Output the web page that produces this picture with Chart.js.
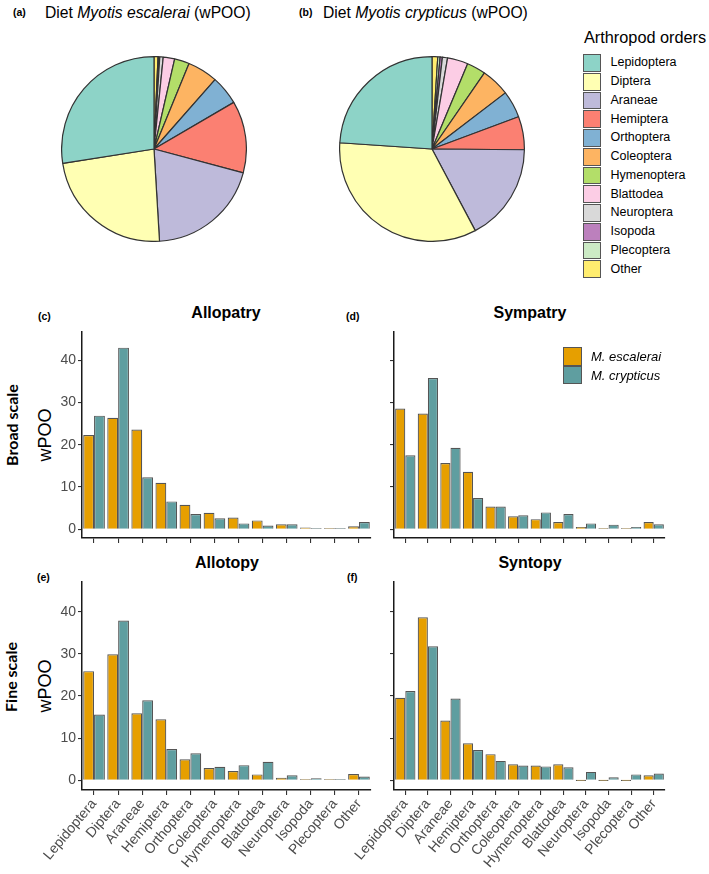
<!DOCTYPE html>
<html>
<head>
<meta charset="utf-8">
<script src="https://cdn.jsdelivr.net/npm/chart.js@4"></script>
<style>
  body { margin: 0; background: #fff; }
  #fig { position: relative; width: 709px; height: 874px; font-family: 'Liberation Sans', Arial, sans-serif; color: #000; }
  #fig canvas { position: absolute; }
  .t { position: absolute; white-space: nowrap; line-height: 1; }
  .tag { font-size: 10.5px; font-weight: bold; }
  .key { position: absolute; box-sizing: border-box; border: 1.4px solid #555; }
  .rot { position: absolute; white-space: nowrap; line-height: 1; transform: translate(-50%, -50%) rotate(-90deg); }
</style>
</head>
<body>
<div id="fig">
  <div class="t tag" style="left:13px;top:7px">(a)</div>
  <div class="t" style="left:45px;top:5px;font-size:15.7px">Diet <i>Myotis escalerai</i> (wPOO)</div>
  <div class="t tag" style="left:299px;top:7px">(b)</div>
  <div class="t" style="left:323px;top:5px;font-size:15.7px">Diet <i>Myotis crypticus</i> (wPOO)</div>
  <canvas id="pieA" width="186" height="186" style="left:61px;top:56px"></canvas>
  <canvas id="pieB" width="186" height="186" style="left:339px;top:56px"></canvas>
  <div class="t" style="left:584px;top:29px;font-size:16.3px">Arthropod orders</div>
  <div id="pieLegend"></div>

  <div class="t" style="left:226px;top:313px;font-size:16px;font-weight:bold;transform:translate(-50%,-50%)">Allopatry</div>
  <div class="t" style="left:530px;top:313px;font-size:16px;font-weight:bold;transform:translate(-50%,-50%)">Sympatry</div>
  <div class="t" style="left:227px;top:563px;font-size:16px;font-weight:bold;transform:translate(-50%,-50%)">Allotopy</div>
  <div class="t" style="left:530px;top:563px;font-size:16px;font-weight:bold;transform:translate(-50%,-50%)">Syntopy</div>
  <div class="t tag" style="left:38px;top:311px">(c)</div>
  <div class="t tag" style="left:346px;top:311px">(d)</div>
  <div class="t tag" style="left:37px;top:572px">(e)</div>
  <div class="t tag" style="left:347px;top:572px">(f)</div>
  <div class="rot" style="left:12px;top:425px;font-family:Lato,sans-serif;font-weight:bold;font-size:16px">Broad scale</div>
  <div class="rot" style="left:45px;top:435px;font-size:18px">wPOO</div>
  <div class="rot" style="left:11px;top:677px;font-family:Lato,sans-serif;font-weight:bold;font-size:16px">Fine scale</div>
  <div class="rot" style="left:45px;top:686px;font-size:18px">wPOO</div>

  <canvas id="barC" width="373" height="251" style="left:0;top:300px"></canvas>
  <canvas id="barD" width="355" height="251" style="left:312px;top:300px"></canvas>
  <canvas id="barE" width="373" height="324" style="left:0;top:550px"></canvas>
  <canvas id="barF" width="355" height="324" style="left:312px;top:550px"></canvas>

  <div class="key" style="left:563px;top:347px;width:18.5px;height:18.5px;background:#E69F00"></div>
  <div class="key" style="left:563px;top:365.5px;width:18.5px;height:18.5px;background:#5F9EA0"></div>
  <div class="t" style="left:591px;top:350px;font-size:13px;font-style:italic">M. escalerai</div>
  <div class="t" style="left:591px;top:369px;font-size:13px;font-style:italic">M. crypticus</div>
</div>
<script>
// Arthropod orders (legend order)
let orders = ["Lepidoptera", "Diptera", "Araneae", "Hemiptera", "Orthoptera", "Coleoptera",
  "Hymenoptera", "Blattodea", "Neuroptera", "Isopoda", "Plecoptera", "Other"];
let orderColors = ["#8DD3C7", "#FFFFB3", "#BEBADA", "#FB8072", "#80B1D3", "#FDB462",
  "#B3DE69", "#FCCDE5", "#D9D9D9", "#BC80BD", "#CCEBC5", "#FFED6F"];

// Pie values (wPOO, %)
let pieEscalerai = [27.5, 23.5, 19.9, 12.6, 5.1, 5.3, 2.6, 2.0, 0.6, 0.2, 0.1, 0.7];
let pieCrypticus = [23.9, 33.8, 17.1, 5.8, 4.7, 5.0, 3.3, 3.6, 0.9, 0.4, 0.4, 1.0];

// Bar values (wPOO)
let allopatryEsc = [22.3, 26.4, 23.6, 11.0, 5.8, 3.9, 2.8, 2.1, 1.2, 0.4, 0.05, 0.7];
let allopatryCry = [26.9, 43.0, 12.3, 6.6, 3.6, 2.6, 1.4, 0.9, 1.2, 0.1, 0.05, 1.7];
let sympatryEsc = [28.6, 27.4, 15.7, 13.6, 5.4, 3.1, 2.4, 1.7, 0.55, 0.15, 0.05, 1.7];
let sympatryCry = [17.5, 35.8, 19.3, 7.4, 5.4, 3.3, 4.0, 3.6, 1.4, 1.1, 0.55, 1.2];
let allotopyEsc = [25.9, 29.9, 15.9, 14.5, 5.0, 2.9, 2.2, 1.4, 0.6, 0.15, 0.05, 1.5];
let allotopyCry = [15.6, 37.9, 19.0, 7.4, 6.4, 3.2, 3.6, 4.4, 1.2, 0.5, 0.05, 0.9];
let syntopyEsc = [19.6, 38.7, 14.2, 8.8, 6.2, 3.8, 3.5, 3.8, 0, 0, 0, 1.2];
let syntopyCry = [21.2, 31.8, 19.4, 7.2, 4.6, 3.5, 3.3, 3.1, 2.0, 0.7, 1.4, 1.6];

let yTicks = [0, 10, 20, 30, 40];

Chart.defaults.font.family = "'Liberation Sans', Arial, sans-serif";

// Legend of the pies
let leg = document.getElementById("pieLegend");
let html = "";
orders.forEach((o, i) => {
  let cy = 62.8 + i * 18.77;
  html += `<div class="key" style="left:582.5px;top:${cy - 8.8}px;width:18.3px;height:17.8px;background:${orderColors[i]}"></div>`;
  html += `<div class="t" style="left:610.5px;top:${cy - 6.5}px;font-size:12.5px">${o}</div>`;
});
leg.innerHTML = html;

// Pies, drawn clockwise from the top starting with "Other"
function pie(id, values) {
  new Chart(document.getElementById(id), {
    type: "pie",
    data: {
      labels: orders.slice().reverse(),
      datasets: [{
        data: values.slice().reverse(),
        backgroundColor: orderColors.slice().reverse(),
        borderColor: "#333",
        borderWidth: 1.2
      }]
    },
    options: {
      responsive: false,
      animation: false,
      plugins: { legend: { display: false }, tooltip: { enabled: false } }
    }
  });
}
pie("pieA", pieEscalerai);
pie("pieB", pieCrypticus);

// Grouped bars
function bars(id, esc, cry, cfg) {
  new Chart(document.getElementById(id), {
    type: "bar",
    data: {
      labels: orders,
      datasets: [
        { label: "M. escalerai", data: esc, backgroundColor: "#E69F00", borderColor: "#555",
          borderWidth: 1.2, minBarLength: 1.2, categoryPercentage: 0.9, barPercentage: 1 },
        { label: "M. crypticus", data: cry, backgroundColor: "#5F9EA0", borderColor: "#555",
          borderWidth: 1.2, minBarLength: 1.2, categoryPercentage: 0.9, barPercentage: 1 }
      ]
    },
    options: {
      responsive: false,
      animation: false,
      layout: { padding: { top: 32, right: 2, left: 0, bottom: 0 } },
      plugins: { legend: { display: false }, tooltip: { enabled: false } },
      scales: {
        x: {
          grid: { offset: false, drawOnChartArea: false, drawTicks: true, tickLength: 5, color: "#333", lineWidth: 1.1 },
          border: { color: "#1a1a1a", width: 1.5 },
          ticks: { display: cfg.xLabels, autoSkip: false, minRotation: 50, maxRotation: 50,
            color: "#4d4d4d", font: { size: 14 }, padding: 1 },
          afterFit: (s) => { s.height = cfg.xh; s.paddingLeft = 0; s.paddingRight = 0; }
        },
        y: {
          min: cfg.ymin,
          max: cfg.ymax,
          afterBuildTicks: (s) => { s.ticks = yTicks.map((v) => ({ value: v })); },
          grid: { drawOnChartArea: false, drawTicks: true, tickLength: 4, color: "#333", lineWidth: 1.1 },
          border: { color: "#1a1a1a", width: 1.5 },
          ticks: { display: cfg.yLabels, color: "#4d4d4d", font: { size: 14 }, padding: 2 },
          afterFit: (s) => { s.width = 82; s.paddingTop = 0; s.paddingBottom = 0; }
        }
      }
    }
  });
}

bars("barC", allopatryEsc, allopatryCry, { xLabels: false, yLabels: true, xh: 13, ymin: -2.06, ymax: 46.7 });
bars("barD", sympatryEsc, sympatryCry, { xLabels: false, yLabels: false, xh: 13, ymin: -2.06, ymax: 46.7 });
bars("barE", allotopyEsc, allotopyCry, { xLabels: true, yLabels: true, xh: 84, ymin: -2.3, ymax: 47.05 });
bars("barF", syntopyEsc, syntopyCry, { xLabels: true, yLabels: false, xh: 84, ymin: -2.3, ymax: 47.05 });
</script>
</body>
</html>
